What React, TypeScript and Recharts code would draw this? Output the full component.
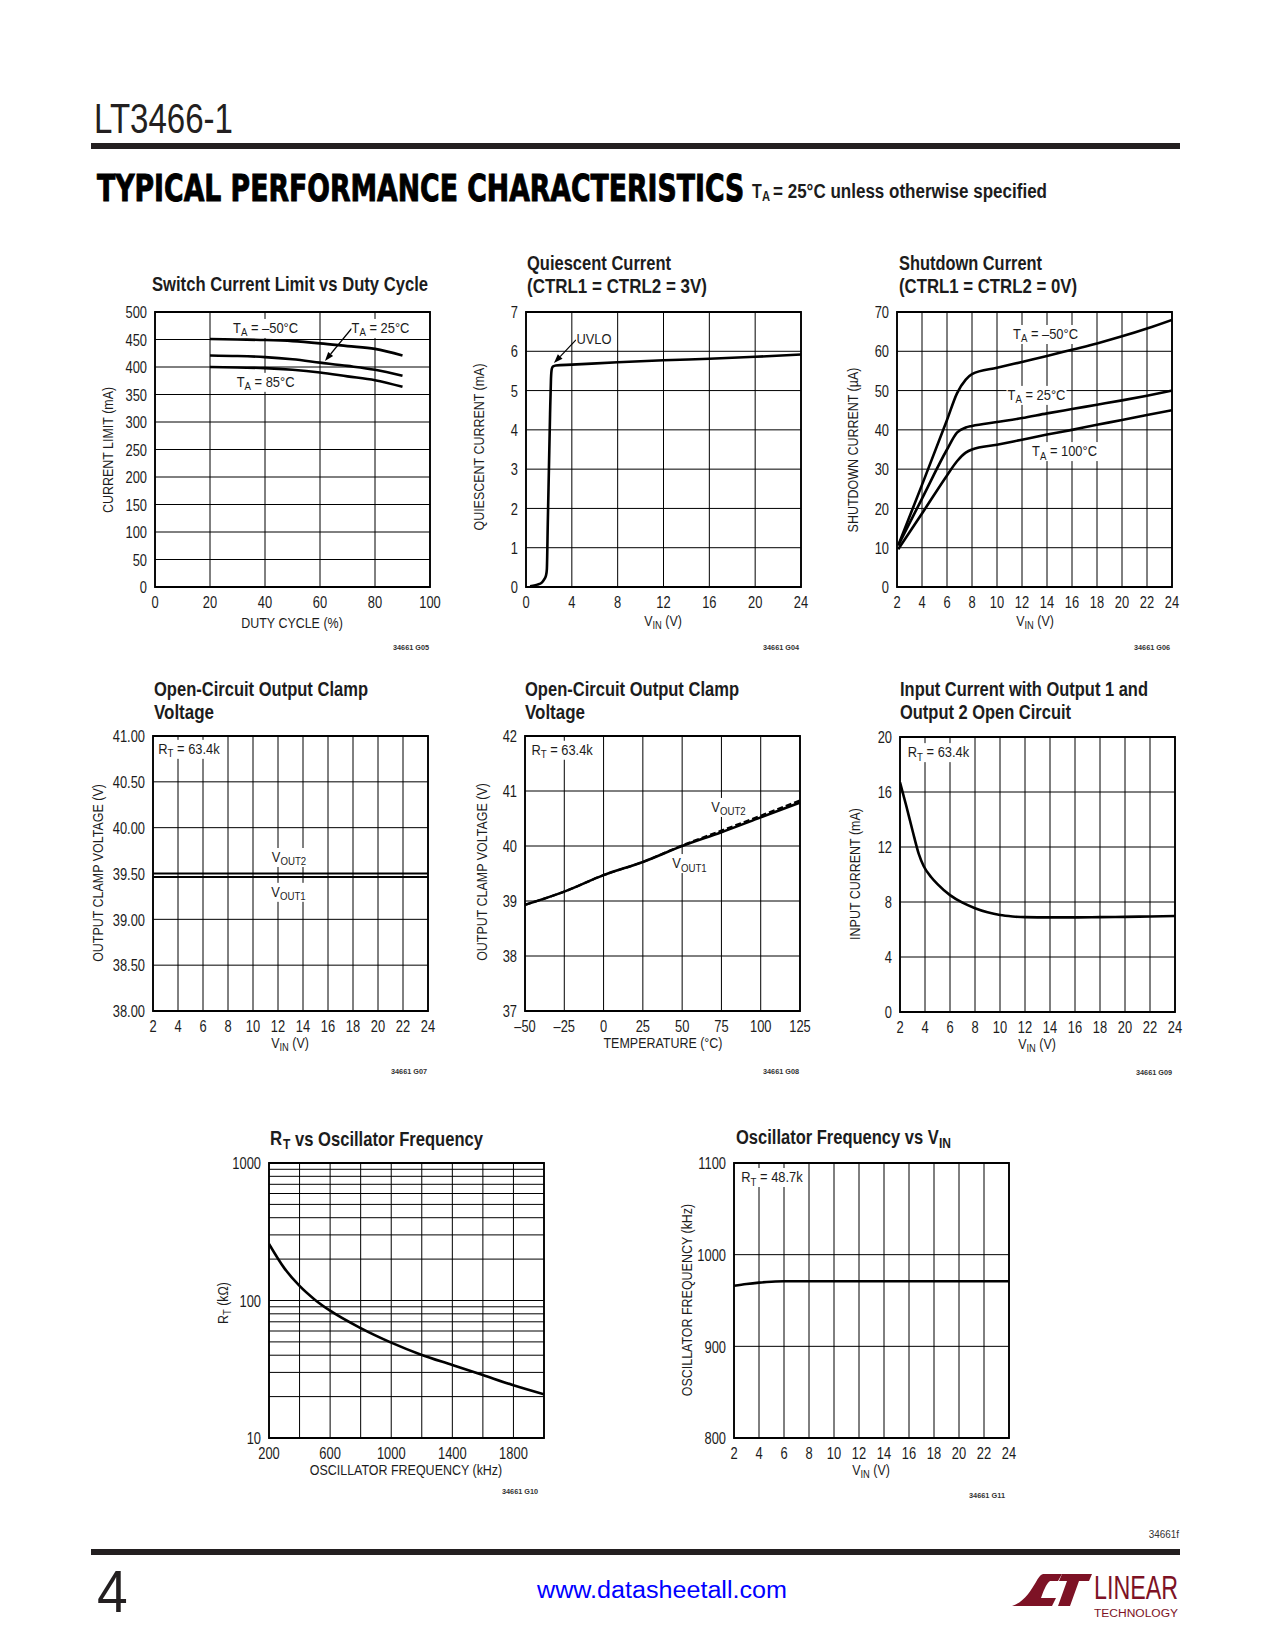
import React from 'react';
import { LineChart, Line, XAxis, YAxis, CartesianGrid, ReferenceArea, ReferenceLine, ReferenceDot } from 'recharts';

const FONT = "'Liberation Sans', Arial, Helvetica, sans-serif";
const INK = '#1c1c1c';

// ---------- Chart 1: Switch current limit vs duty cycle ----------
const dutyCycle = [20, 30, 40, 50, 60, 70, 80, 90];
const ilimM50 = [451, 450, 449, 447, 443, 438, 433, 421];
const ilim25 = [421, 420, 418, 414, 408, 402, 395, 384];
const ilim85 = [400, 399, 398, 395, 390, 383, 376, 364];
const dutyTicks = [0, 20, 40, 60, 80, 100];
const ilimTicks = [0, 50, 100, 150, 200, 250, 300, 350, 400, 450, 500];

// ---------- Chart 2: Quiescent current ----------
const qVin = [0.35, 1.0, 1.4, 1.6, 1.75, 1.82, 1.9, 2.0, 2.1, 2.18, 2.25, 2.35, 2.6, 4, 8, 12, 16, 20, 24];
const qCurrent = [0.02, 0.06, 0.12, 0.2, 0.3, 0.45, 1.6, 3.0, 4.4, 5.3, 5.55, 5.61, 5.64, 5.66, 5.72, 5.77, 5.81, 5.86, 5.92];
const qVinTicks = [0, 4, 8, 12, 16, 20, 24];
const qTicks = [0, 1, 2, 3, 4, 5, 6, 7];

// ---------- Chart 3: Shutdown current ----------
const sdVin = [2.1, 4, 6, 6.8, 7.5, 8, 10, 12, 14, 16, 18, 20, 22, 24];
const sdM50 = [10.6, 26, 42.5, 49.3, 52.8, 54.2, 55.8, 57.3, 58.8, 60.4, 62, 63.8, 65.8, 68];
const sd25 = [10.6, 22.5, 35, 39.3, 40.6, 41.0, 42, 43, 44.2, 45.3, 46.4, 47.5, 48.7, 50];
const sd100 = [9.6, 18.7, 28.4, 32, 34.2, 35, 36.2, 37.5, 38.8, 40, 41.3, 42.5, 43.8, 45];
const vinTicks = [2, 4, 6, 8, 10, 12, 14, 16, 18, 20, 22, 24];
const sdTicks = [0, 10, 20, 30, 40, 50, 60, 70];

// ---------- Chart 4: Output clamp vs VIN ----------
const clampVin = [2, 4, 6, 8, 10, 12, 14, 16, 18, 20, 22, 24];
const vout2Vin = [39.5, 39.5, 39.5, 39.5, 39.5, 39.5, 39.5, 39.5, 39.5, 39.5, 39.5, 39.5];
const vout1Vin = [39.462, 39.462, 39.462, 39.462, 39.462, 39.462, 39.462, 39.462, 39.462, 39.462, 39.462, 39.462];
const clampTicks = [38, 38.5, 39, 39.5, 40, 40.5, 41];

// ---------- Chart 5: Output clamp vs temperature ----------
const tempC = [-50, -25, 0, 25, 50, 75, 100, 125];
const vout1Temp = [38.93, 39.17, 39.47, 39.71, 40.0, 40.25, 40.52, 40.79];
const vout2Temp = [38.93, 39.17, 39.47, 39.71, 40.01, 40.28, 40.55, 40.83];
const tempTicks = [-50, -25, 0, 25, 50, 75, 100, 125];
const vTempTicks = [37, 38, 39, 40, 41, 42];

// ---------- Chart 6: Input current ----------
const icVin = [2, 2.5, 3, 3.5, 3.9, 4.5, 5, 6, 7, 8, 9, 10, 11, 12, 14, 16, 18, 20, 22, 24];
const icCurrent = [16.7, 15.0, 13.2, 11.5, 10.6, 9.8, 9.3, 8.5, 7.95, 7.55, 7.25, 7.05, 6.95, 6.9, 6.88, 6.88, 6.9, 6.92, 6.95, 6.98];
const icTicks = [0, 4, 8, 12, 16, 20];

// ---------- Chart 7: RT vs oscillator frequency ----------
const oscFreq = [200, 300, 400, 500, 600, 800, 1000, 1200, 1400, 1600, 1800, 2000];
const rtK = [258, 172, 127.6, 101.4, 84.3, 63, 49.4, 40.2, 34, 28.7, 24.2, 20.8];
const freqTicks = [200, 400, 600, 800, 1000, 1200, 1400, 1600, 1800, 2000];
const freqLabels = [200, 600, 1000, 1400, 1800];
const rtTicks = [10, 20, 30, 40, 50, 60, 70, 80, 90, 100, 200, 300, 400, 500, 600, 700, 800, 900, 1000];
const rtLabels = [10, 100, 1000];

// ---------- Chart 8: Oscillator frequency vs VIN ----------
const ofVin = [2, 3, 4, 5, 6, 8, 10, 12, 14, 16, 18, 20, 22, 24];
const ofFreq = [966, 968, 969.5, 970.5, 971, 971, 971, 971, 971, 971, 971, 971, 971, 971];
const ofTicks = [800, 900, 1000, 1100];

// ---------- tables ----------
const d1 = dutyCycle.map((x, i) => ({ x, a: ilimM50[i], b: ilim25[i], c: ilim85[i] }));
const d2 = qVin.map((x, i) => ({ x, a: qCurrent[i] }));
const d3 = sdVin.map((x, i) => ({ x, a: sdM50[i], b: sd25[i], c: sd100[i] }));
const d4 = clampVin.map((x, i) => ({ x, a: vout2Vin[i], b: vout1Vin[i] }));
const d5 = tempC.map((x, i) => ({ x, a: vout1Temp[i], b: vout2Temp[i] }));
const d6 = icVin.map((x, i) => ({ x, a: icCurrent[i] }));
const d7 = oscFreq.map((x, i) => ({ x, a: rtK[i] }));
const d8 = ofVin.map((x, i) => ({ x, a: ofFreq[i] }));

type Part = string | [string];

function Rich({ parts, size }: { parts: Part[]; size: number }) {
  const out: any[] = [];
  let shifted = false;
  parts.forEach((p, i) => {
    if (typeof p === 'string') {
      out.push(<tspan key={i} dy={shifted ? -size * 0.28 : 0}>{p}</tspan>);
      shifted = false;
    } else {
      out.push(<tspan key={i} fontSize={size * 0.75} dy={shifted ? 0 : size * 0.28}>{p[0]}</tspan>);
      shifted = true;
    }
  });
  return <>{out}</>;
}

function CT({ x, y, parts, size = 15, sx = 0.86, anchor = 'start', weight = 'normal', fill = INK, rotate = 0, len, family, stroke, sw, base }: any) {
  const tr = `translate(${x},${y})` + (rotate ? ` rotate(${rotate})` : '') + (sx !== 1 ? ` scale(${sx},1)` : '');
  const simple = typeof parts === 'string';
  return (
    <text
      transform={tr}
      fontSize={size}
      fontFamily={family || FONT}
      fontWeight={weight}
      textAnchor={anchor}
      dominantBaseline={base || 'central'}
      fill={fill}
      stroke={stroke}
      strokeWidth={sw}
      textLength={len}
      lengthAdjust={len ? 'spacingAndGlyphs' : undefined}
    >
      {simple ? parts : <Rich parts={parts} size={size} />}
    </text>
  );
}

function XTick(props: any) {
  const { x, y, payload, fmt } = props;
  const s = fmt ? fmt(payload.value) : String(payload.value);
  if (s == null) return <g />;
  return <CT x={x} y={y} parts={s} size={17} sx={0.76} anchor="middle" />;
}

function YTick(props: any) {
  const { x, y, payload, fmt } = props;
  const s = fmt ? fmt(payload.value) : String(payload.value);
  if (s == null) return <g />;
  return <CT x={x} y={y} parts={s} size={17} sx={0.76} anchor="end" />;
}

const arrowShape = (pp: any) => {
  const { x1, y1, x2, y2 } = pp;
  const a = Math.atan2(y2 - y1, x2 - x1);
  const L = 9;
  const w = 3.2;
  const bx = x2 - L * Math.cos(a);
  const by = y2 - L * Math.sin(a);
  const p1 = `${bx + w * Math.sin(a)},${by - w * Math.cos(a)}`;
  const p2 = `${bx - w * Math.sin(a)},${by + w * Math.cos(a)}`;
  return (
    <g>
      <line x1={x1} y1={y1} x2={bx} y2={by} stroke="#000" strokeWidth={1.2} />
      <polygon points={`${x2},${y2} ${p1} ${p2}`} fill="#000" />
    </g>
  );
};

const lbl = (key: string, x: number, y: number, w: number, parts: Part[]) => (
  <ReferenceDot
    key={key}
    x={x}
    y={y}
    r={1}
    ifOverflow="visible"
    shape={(pp: any) => (
      <g>
        <rect x={pp.cx - w / 2} y={pp.cy - 9} width={w} height={19} fill="#fff" />
        <CT x={pp.cx} y={pp.cy} parts={parts} size={15} sx={0.86} anchor="middle" />
      </g>
    )}
  />
);

const arrow = (key: string, from: { x: number; y: number }, to: { x: number; y: number }) => (
  <ReferenceLine key={key} segment={[from, to]} ifOverflow="visible" shape={arrowShape} />
);

function Plot(p: any) {
  return (
    <div style={{ position: 'absolute', left: p.left - 70, top: p.top - 10 }}>
      <LineChart width={360} height={315} data={p.data} margin={{ top: 10, right: 15, bottom: 0, left: 0 }}>
        <CartesianGrid stroke="#000" strokeWidth={1} />
        <XAxis
          dataKey="x"
          type="number"
          domain={p.xDomain}
          ticks={p.xTicks}
          interval={0}
          allowDataOverflow
          axisLine={false}
          tickLine={false}
          tickSize={0}
          tickMargin={15}
          height={30}
          tick={<XTick fmt={p.xFmt} />}
        />
        <YAxis
          type="number"
          domain={p.yDomain}
          ticks={p.yTicks}
          interval={0}
          scale={p.yLog ? 'log' : 'auto'}
          allowDataOverflow
          axisLine={false}
          tickLine={false}
          tickSize={0}
          tickMargin={8}
          width={70}
          tick={<YTick fmt={p.yFmt} />}
        />
        <ReferenceArea
          x1={p.xDomain[0]}
          x2={p.xDomain[1]}
          y1={p.yDomain[0]}
          y2={p.yDomain[1]}
          fill="none"
          fillOpacity={0}
          stroke="#000"
          strokeWidth={1.8}
          ifOverflow="visible"
        />
        {p.series.map((s: any) => (
          <Line
            key={s.key}
            dataKey={s.key}
            type="monotone"
            stroke="#000"
            strokeWidth={s.w || 2.6}
            strokeDasharray={s.dash}
            dot={false}
            activeDot={false}
            isAnimationActive={false}
          />
        ))}
        {p.extras}
      </LineChart>
    </div>
  );
}

const TA = (t: string): Part[] => ['T', ['A'], ' = ' + t];
const RT = (t: string): Part[] => ['R', ['T'], ' = ' + t];
const VIN: Part[] = ['V', ['IN'], ' (V)'];

function Title({ x, y, text, len }: any) {
  return <CT x={x} y={y} parts={text} size={21} sx={1} weight="bold" len={len} />;
}

function YLabel({ x, y, text }: any) {
  return <CT x={x} y={y} parts={text} size={14.5} sx={0.86} anchor="middle" rotate={-90} />;
}

function XLabel({ x, y, text }: any) {
  return <CT x={x} y={y} parts={text} size={14.5} sx={0.86} anchor="middle" />;
}

function Code({ x, y, text }: any) {
  return <CT x={x} y={y} parts={text} size={8} sx={1} weight="bold" len={36} fill="#333" />;
}

const MAROON = '#7d1225';

function Overlay() {
  return (
    <svg width={1275} height={1650} style={{ position: 'absolute', left: 0, top: 0 }}>
      {/* header */}
      <CT x={94} y={118} parts="LT3466-1" size={42} sx={1} len={139} fill="#231f20" />
      <rect x={91} y={143} width={1089} height={6} fill="#231f20" />
      <CT x={97} y={188} parts="TYPICAL PERFORMANCE CHARACTERISTICS" size={38} sx={0.703} weight="bold" family="'DejaVu Sans', sans-serif" fill="#000" stroke="#000" sw={1} />
      <CT x={752} y={191} parts="T" size={20} sx={0.8} weight="bold" />
      <CT x={762} y={197} parts="A" size={14} sx={0.8} weight="bold" />
      <CT x={773} y={191} parts="= 25°C unless otherwise specified" size={20} sx={1} weight="bold" len={274} />

      {/* titles */}
      <Title x={152} y={283} text="Switch Current Limit vs Duty Cycle" len={276} />
      <Title x={527} y={262} text="Quiescent Current" len={144} />
      <Title x={527} y={285} text="(CTRL1 = CTRL2 = 3V)" len={180} />
      <Title x={899} y={262} text="Shutdown Current" len={143} />
      <Title x={899} y={285} text="(CTRL1 = CTRL2 = 0V)" len={178} />
      <Title x={154} y={688} text="Open-Circuit Output Clamp" len={214} />
      <Title x={154} y={711} text="Voltage" len={60} />
      <Title x={525} y={688} text="Open-Circuit Output Clamp" len={214} />
      <Title x={525} y={711} text="Voltage" len={60} />
      <Title x={900} y={688} text="Input Current with Output 1 and" len={248} />
      <Title x={900} y={711} text="Output 2 Open Circuit" len={171} />
      {/* title 7: R with subscript T */}
      <CT x={270} y={1138} parts="R" size={21} sx={0.8} weight="bold" />
      <CT x={283} y={1144} parts="T" size={15} sx={0.8} weight="bold" />
      <Title x={295} y={1138} text="vs Oscillator Frequency" len={188} />
      {/* title 8: V with subscript IN */}
      <CT x={736} y={1137} parts="Oscillator Frequency vs V" size={21} sx={0.787} weight="bold" />
      <CT x={939} y={1143} parts="IN" size={15} sx={0.8} weight="bold" />

      {/* axis labels */}
      <YLabel x={108} y={450} text="CURRENT LIMIT (mA)" />
      <YLabel x={479} y={447} text="QUIESCENT CURRENT (mA)" />
      <YLabel x={853} y={450} text="SHUTDOWN CURRENT (µA)" />
      <YLabel x={98} y={873} text="OUTPUT CLAMP VOLTAGE (V)" />
      <YLabel x={482} y={872} text="OUTPUT CLAMP VOLTAGE (V)" />
      <YLabel x={855} y={874} text="INPUT CURRENT (mA)" />
      <YLabel x={223} y={1303} text={['R', ['T'], ' (kΩ)']} />
      <YLabel x={687} y={1300} text="OSCILLATOR FREQUENCY (kHz)" />

      <XLabel x={292} y={623} text="DUTY CYCLE (%)" />
      <XLabel x={663} y={621} text={VIN} />
      <XLabel x={1035} y={621} text={VIN} />
      <XLabel x={290} y={1043} text={VIN} />
      <XLabel x={663} y={1043} text="TEMPERATURE (°C)" />
      <XLabel x={1037} y={1044} text={VIN} />
      <XLabel x={406} y={1470} text="OSCILLATOR FREQUENCY (kHz)" />
      <XLabel x={871} y={1470} text={VIN} />

      {/* figure codes */}
      <Code x={393} y={647} text="34661 G05" />
      <Code x={763} y={647} text="34661 G04" />
      <Code x={1134} y={647} text="34661 G06" />
      <Code x={391} y={1071} text="34661 G07" />
      <Code x={763} y={1071} text="34661 G08" />
      <Code x={1136} y={1072} text="34661 G09" />
      <Code x={502} y={1491} text="34661 G10" />
      <Code x={969} y={1495} text="34661 G11" />
      <CT x={1179} y={1534} parts="34661f" size={11} sx={0.9} anchor="end" fill="#333" />

      {/* footer */}
      <rect x={91} y={1549} width={1089} height={6} fill="#231f20" />
      <CT x={97} y={1591} parts="4" size={60} sx={0.92} fill="#231f20" />
      <CT x={537} y={1590} parts="www.datasheetall.com" size={23} sx={1} len={250} fill="#0000ff" />
      {/* logo */}
      <path d="M1012,1606 C1024,1602 1030,1592 1036,1582 C1038,1578 1040,1575 1043,1574 L1062,1574 L1058,1581 L1050,1581 C1046,1584 1043,1592 1041,1598 L1056,1598 L1052,1606 Z" fill={MAROON} />
      <path d="M1062,1574 L1092,1574 L1089,1581 L1079,1581 L1070,1606 L1058,1606 L1067,1581 L1059,1581 Z" fill={MAROON} />
      <CT x={1094} y={1599} parts="LINEAR" size={34} sx={1} len={84} fill={MAROON} base="alphabetic" />
      <CT x={1094} y={1617} parts="TECHNOLOGY" size={10} sx={1} len={84} fill={MAROON} base="alphabetic" />
    </svg>
  );
}

export default function App() {
  return (
    <div style={{ position: 'absolute', left: 0, top: 0, width: 1275, height: 1650, background: '#fff', overflow: 'hidden' }}>
      <Overlay />
      <Plot
        left={155}
        top={312}
        data={d1}
        xDomain={[0, 100]}
        xTicks={dutyTicks}
        yDomain={[0, 500]}
        yTicks={ilimTicks}
        series={[{ key: 'a' }, { key: 'b' }, { key: 'c' }]}
        extras={[
          lbl('l1', 40.2, 471, 66, TA('\u201350°C')),
          lbl('l2', 82, 471, 58, TA('25°C')),
          lbl('l3', 40.2, 373, 58, TA('85°C')),
          arrow('a1', { x: 71.5, y: 470 }, { x: 61.8, y: 411 }),
        ]}
      />
      <Plot
        left={526}
        top={312}
        data={d2}
        xDomain={[0, 24]}
        xTicks={qVinTicks}
        yDomain={[0, 7]}
        yTicks={qTicks}
        series={[{ key: 'a' }]}
        extras={[
          lbl('u1', 5.93, 6.31, 36, ['UVLO']),
          arrow('a2', { x: 4.36, y: 6.29 }, { x: 2.44, y: 5.7 }),
        ]}
      />
      <Plot
        left={897}
        top={312}
        data={d3}
        xDomain={[2, 24]}
        xTicks={vinTicks}
        yDomain={[0, 70]}
        yTicks={sdTicks}
        series={[{ key: 'a' }, { key: 'b' }, { key: 'c' }]}
        extras={[
          lbl('s1', 13.88, 64.4, 68, TA('\u201350°C')),
          lbl('s2', 13.16, 48.9, 60, TA('25°C')),
          lbl('s3', 15.4, 34.6, 68, TA('100°C')),
        ]}
      />
      <Plot
        left={153}
        top={736}
        data={d4}
        xDomain={[2, 24]}
        xTicks={vinTicks}
        yDomain={[38, 41]}
        yTicks={clampTicks}
        yFmt={(v: number) => v.toFixed(2)}
        series={[{ key: 'a', w: 2 }, { key: 'b', w: 2 }]}
        extras={[
          lbl('c1', 4.88, 40.86, 66, RT('63.4k')),
          lbl('c2', 12.88, 39.68, 40, ['V', ['OUT2']]),
          lbl('c3', 12.84, 39.3, 40, ['V', ['OUT1']]),
        ]}
      />
      <Plot
        left={525}
        top={736}
        data={d5}
        xDomain={[-50, 125]}
        xTicks={tempTicks}
        xFmt={(v: number) => (v < 0 ? '\u2013' + Math.abs(v) : String(v))}
        yDomain={[37, 42]}
        yTicks={vTempTicks}
        series={[{ key: 'a' }, { key: 'b', w: 2.2, dash: '6 3' }]}
        extras={[
          lbl('t1', -26.4, 41.75, 66, RT('63.4k')),
          lbl('t2', 79.5, 40.71, 40, ['V', ['OUT2']]),
          lbl('t3', 54.7, 39.69, 40, ['V', ['OUT1']]),
        ]}
      />
      <Plot
        left={900}
        top={737}
        data={d6}
        xDomain={[2, 24]}
        xTicks={vinTicks}
        yDomain={[0, 20]}
        yTicks={icTicks}
        series={[{ key: 'a' }]}
        extras={[lbl('i1', 5.08, 18.9, 66, RT('63.4k'))]}
      />
      <Plot
        left={269}
        top={1163}
        data={d7}
        xDomain={[200, 2000]}
        xTicks={freqTicks}
        xFmt={(v: number) => (freqLabels.includes(v) ? String(v) : null)}
        yDomain={[10, 1000]}
        yTicks={rtTicks}
        yLog
        yFmt={(v: number) => (rtLabels.includes(v) ? String(v) : null)}
        series={[{ key: 'a' }]}
        extras={[]}
      />
      <Plot
        left={734}
        top={1163}
        data={d8}
        xDomain={[2, 24]}
        xTicks={vinTicks}
        yDomain={[800, 1100]}
        yTicks={ofTicks}
        series={[{ key: 'a' }]}
        extras={[lbl('o1', 5.04, 1084.7, 66, RT('48.7k'))]}
      />
    </div>
  );
}
